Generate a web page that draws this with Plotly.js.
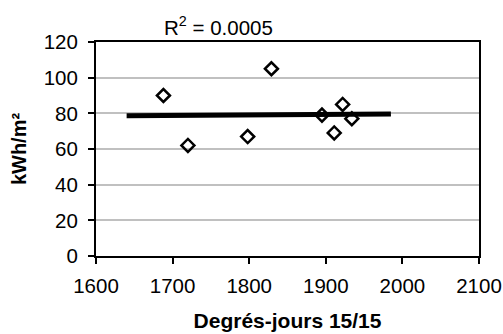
<!DOCTYPE html>
<html>
<head>
<meta charset="utf-8">
<script src="https://cdn.plot.ly/plotly-3.0.1.min.js"></script>
<style>html,body{margin:0;padding:0;background:#fff;}#chart{width:503px;height:334px;}</style>
</head>
<body>
<div id="chart"></div>
<script>
// Data
const degreeDays = [1688, 1720, 1798, 1829, 1895, 1911, 1922, 1934];
const consumption = [90, 62, 67, 105, 79, 69, 85, 77];
const trendRange = [1640, 1985];
const r2Label = 'R<sup>2</sup> = 0.0005';
const xTicks = [1600, 1700, 1800, 1900, 2000, 2100];
const yTicks = [0, 20, 40, 60, 80, 100, 120];

// Linear least-squares trendline from the data
const n = degreeDays.length;
const mx = degreeDays.reduce((a, b) => a + b, 0) / n;
const my = consumption.reduce((a, b) => a + b, 0) / n;
let sxy = 0, sxx = 0;
for (let i = 0; i < n; i++) {
  sxy += (degreeDays[i] - mx) * (consumption[i] - my);
  sxx += (degreeDays[i] - mx) ** 2;
}
const slope = sxy / sxx;
const intercept = my - slope * mx;
const trendY = trendRange.map(x => intercept + slope * x);

const font = 'Liberation Sans, Arial, sans-serif';

const traces = [
  {
    x: trendRange, y: trendY, type: 'scatter', mode: 'lines',
    line: {color: '#000', width: 5}, hoverinfo: 'skip'
  },
  {
    x: degreeDays, y: consumption, type: 'scatter', mode: 'markers',
    marker: {symbol: 'diamond-open', size: 10, color: '#000', line: {color: '#000', width: 2.5}}
  }
];

const layout = {
  width: 503, height: 334,
  margin: {l: 96, r: 24, t: 42, b: 78},
  paper_bgcolor: '#fff', plot_bgcolor: '#fff',
  showlegend: false,
  font: {family: font, color: '#000', size: 20},
  xaxis: {
    range: [1600, 2100], tickvals: xTicks, ticktext: xTicks.map(String),
    showgrid: false, zeroline: false,
    showline: true, linecolor: '#000', linewidth: 2, mirror: true,
    ticks: 'outside', ticklen: 6, tickwidth: 2, tickcolor: '#000',
    ticklabelstandoff: 4,
    tickfont: {family: font, size: 20.5, color: '#000'},
    title: {text: '<b>Degrés-jours 15/15</b>', font: {family: font, size: 21, color: '#000'}, standoff: 18}
  },
  yaxis: {
    range: [0, 120], tickvals: yTicks, ticktext: yTicks.map(String),
    showgrid: true, gridcolor: '#c0c0c0', gridwidth: 2, zeroline: false,
    showline: true, linecolor: '#000', linewidth: 2, mirror: true,
    ticks: 'outside', ticklen: 6, tickwidth: 2, tickcolor: '#000',
    ticklabelstandoff: 6,
    tickfont: {family: font, size: 20.5, color: '#000'},
    title: {text: '<b>kWh/m²</b>', font: {family: font, size: 20, color: '#000'}, standoff: 12}
  },
  annotations: [{
    text: r2Label, xref: 'paper', yref: 'paper', x: 0.3186, y: 1.0, yanchor: 'bottom',
    xanchor: 'center', showarrow: false, yshift: 1,
    font: {family: font, size: 20.5, color: '#000'}
  }]
};

Plotly.newPlot('chart', traces, layout, {displayModeBar: false, staticPlot: true});
</script>
</body>
</html>
